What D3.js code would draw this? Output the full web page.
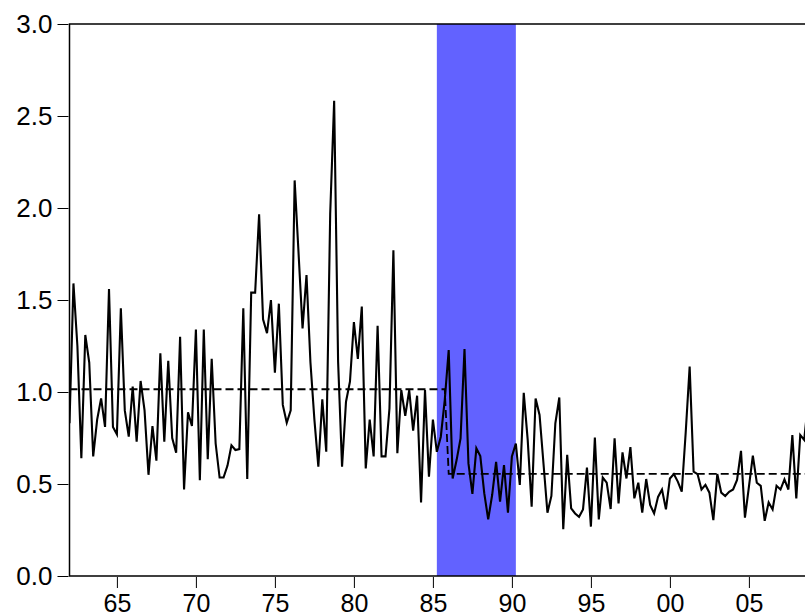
<!DOCTYPE html>
<html>
<head>
<meta charset="utf-8">
<script src="https://cdn.jsdelivr.net/npm/d3@7"></script>
<style>
  html, body { margin: 0; padding: 0; background: #fff; }
  svg { display: block; }
</style>
</head>
<body>
<svg id="chart" width="805" height="616"></svg>
<script>
// ---- data (quarterly, first observation 1962Q1) ----
const startYear = 1962;
const values = [
  0.83, 1.59, 1.25, 0.64, 1.31, 1.16, 0.65, 0.85, 0.965, 0.81,
  1.56, 0.81, 0.77, 1.455, 0.90, 0.757, 1.03, 0.73, 1.06, 0.90,
  0.55, 0.815, 0.627, 1.21, 0.73, 1.17, 0.75, 0.67, 1.30, 0.47,
  0.89, 0.815, 1.34, 0.52, 1.34, 0.635, 1.18, 0.72, 0.535, 0.535,
  0.60, 0.71, 0.685, 0.69, 1.455, 0.527, 1.54, 1.54, 1.966, 1.395,
  1.32, 1.50, 1.105, 1.48, 0.93, 0.833, 0.90, 2.15, 1.75, 1.346,
  1.636, 1.16, 0.85, 0.594, 0.96, 0.676, 1.97, 2.583, 1.165, 0.594,
  0.947, 1.056, 1.38, 1.18, 1.464, 0.585, 0.85, 0.65, 1.36, 0.65,
  0.65, 0.91, 1.77, 0.667, 1.01, 0.87, 1.01, 0.79, 0.98, 0.40,
  1.01, 0.54, 0.85, 0.675, 0.757, 0.956, 1.228, 0.53, 0.63, 0.748,
  1.234, 0.612, 0.446, 0.694, 0.652, 0.45, 0.308, 0.44, 0.62, 0.404,
  0.603, 0.344, 0.65, 0.72, 0.495, 0.996, 0.74, 0.377, 0.965, 0.875,
  0.61, 0.344, 0.435, 0.83, 0.97, 0.254, 0.658, 0.368, 0.34, 0.322,
  0.362, 0.589, 0.268, 0.752, 0.308, 0.535, 0.507, 0.364, 0.748, 0.395,
  0.672, 0.53, 0.70, 0.422, 0.507, 0.344, 0.527, 0.386, 0.34, 0.43,
  0.47, 0.362, 0.53, 0.554, 0.513, 0.458, 0.78, 1.138, 0.567, 0.554,
  0.47, 0.495, 0.453, 0.304, 0.554, 0.453, 0.435, 0.458, 0.47, 0.522,
  0.68, 0.317, 0.485, 0.654, 0.507, 0.49, 0.30, 0.40, 0.362, 0.49,
  0.47, 0.525, 0.47, 0.766, 0.422, 0.766, 0.74, 0.95
];
const regimeMeans = [1.015, 0.555];
const regimeBreak = 1986.0;          // first quarter of the second regime
const bandStart = 1985.25, bandEnd = 1990.25;
const yTicks = [0, 0.5, 1.0, 1.5, 2.0, 2.5, 3.0];
const xTicks = [1965, 1970, 1975, 1980, 1985, 1990, 1995, 2000, 2005];

const series = values.map((v, i) => ({ t: startYear + i / 4, v }));
const meanSeries = series.map(d => ({ t: d.t, v: d.t < regimeBreak ? regimeMeans[0] : regimeMeans[1] }));

// ---- layout ----
const plotLeft = 69.5, plotTop = 24, plotBottom = 576;
const pxPerYear = 15.8;
const lastT = series[series.length - 1].t;
const plotRight = plotLeft + (lastT - startYear) * pxPerYear;

const x = d3.scaleLinear().domain([startYear, lastT]).range([plotLeft, plotRight]);
const y = d3.scaleLinear().domain([0, 3]).range([plotBottom, plotTop]);

const svg = d3.select("#chart");

svg.append("defs").append("clipPath").attr("id", "plotclip")
  .append("rect").attr("x", plotLeft).attr("y", plotTop)
  .attr("width", plotRight - plotLeft).attr("height", plotBottom - plotTop);

// shaded band
svg.append("rect")
  .attr("x", x(bandStart)).attr("y", plotTop)
  .attr("width", x(bandEnd) - x(bandStart)).attr("height", plotBottom - plotTop)
  .attr("fill", "#6262FF");

const g = svg.append("g").attr("clip-path", "url(#plotclip)");

// regime mean (dashed)
g.append("path").datum(meanSeries)
  .attr("fill", "none").attr("stroke", "#000").attr("stroke-width", 1.8)
  .attr("stroke-dasharray", "8,4")
  .attr("d", d3.line().x(d => x(d.t)).y(d => y(d.v)));

// series
g.append("path").datum(series)
  .attr("fill", "none").attr("stroke", "#000").attr("stroke-width", 2.1)
  .attr("stroke-linejoin", "miter")
  .attr("d", d3.line().x(d => x(d.t)).y(d => y(d.v)));

// frame
svg.append("path")
  .attr("d", `M${plotRight + 20},${plotTop}H${plotLeft}V${plotBottom}H${plotRight + 20}`)
  .attr("fill", "none").attr("stroke", "#000").attr("stroke-width", 1.5);

// y axis
const yAxis = d3.axisLeft(y).tickValues(yTicks).tickFormat(d3.format(".1f"))
  .tickSize(11).tickPadding(5);
const ya = svg.append("g").attr("transform", `translate(${plotLeft - 1},0)`).call(yAxis);
ya.select(".domain").remove();
ya.selectAll(".tick line").attr("stroke", "#000").attr("stroke-width", 1);
ya.selectAll("text").attr("font-family", "'Liberation Sans', Arial, sans-serif")
  .attr("font-size", 26).attr("fill", "#000");

// x axis
const xAxis = d3.axisBottom(x).tickValues(xTicks)
  .tickFormat(d => String(d % 100).padStart(2, "0"))
  .tickSize(11).tickPadding(6);
const xa = svg.append("g").attr("transform", `translate(0,${plotBottom + 1})`).call(xAxis);
xa.select(".domain").remove();
xa.selectAll(".tick line").attr("stroke", "#000").attr("stroke-width", 1);
xa.selectAll("text").attr("font-family", "'Liberation Sans', Arial, sans-serif")
  .attr("font-size", 25).attr("fill", "#000");
</script>
</body>
</html>
